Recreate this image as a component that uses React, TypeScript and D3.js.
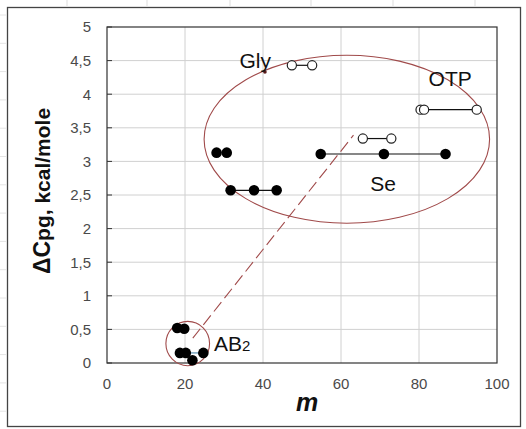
import React from "react";
import * as d3 from "d3";

// Filled markers: glass formers measured at several m values
const filledX = [28.1, 30.7, 31.7, 37.7, 43.5, 54.8, 71.0, 86.8, 18.0, 19.8, 18.7, 20.2, 24.7, 21.9];
const filledY = [3.13, 3.13, 2.57, 2.57, 2.57, 3.11, 3.11, 3.11, 0.52, 0.51, 0.15, 0.15, 0.15, 0.04];

// Open markers
const openX = [47.4, 52.6, 80.4, 81.3, 94.8, 65.6, 72.9];
const openY = [4.43, 4.43, 3.77, 3.77, 3.77, 3.34, 3.34];

// Connected segments [x1, x2, y]
const segX1 = [31.7, 54.8, 47.4, 81.3, 65.6];
const segX2 = [43.5, 86.8, 52.6, 94.8, 72.9];
const segY = [2.57, 3.11, 4.43, 3.77, 3.34];

const xTicks = [0, 20, 40, 60, 80, 100];
const yTicks = [0, 0.5, 1, 1.5, 2, 2.5, 3, 3.5, 4, 4.5, 5];

// Group outlines (center x, center y, radius x, radius y) in data units
const bigGroup = [61.5, 3.33, 36.6, 1.25];
const smallGroup = [20.7, 0.29, 5.6, 0.33];

// Connector between groups
const linkFrom = [22, 0.37];
const linkTo = [63.2, 3.39];

const labels = [
  { text: "Gly", x: 38, y: 4.39 },
  { text: "OTP", x: 88, y: 4.12 },
  { text: "Se", x: 70.8, y: 2.56 },
];

const W = 526;
const H = 429;
const left = 107;
const right = 497;
const top = 27;
const bottom = 363;

export default function App() {
  const x = d3.scaleLinear().domain([0, 100]).range([left, right]);
  const y = d3.scaleLinear().domain([0, 5]).range([bottom, top]);
  const fmt = (v: number) => String(v).replace(".", ",");
  const font = "'Liberation Sans', Arial, sans-serif";
  const red = "#a04a4a";

  const ellipse = (g: number[]) => (
    <ellipse
      cx={x(g[0])}
      cy={y(g[1])}
      rx={x(g[2]) - x(0)}
      ry={y(0) - y(g[3])}
      fill="none"
      stroke={red}
      strokeWidth={1.1}
    />
  );

  const faintTop = [67, 147, 230, 311, 393, 475];
  const faintLeft = d3.range(15, 425, 28.3);

  return (
    <svg
      width={W}
      height={H}
      style={{ position: "absolute", left: 0, top: 0, background: "#fff" }}
      fontFamily={font}
    >
      {faintTop.map((v) => (
        <line key={"ft" + v} x1={v} x2={v} y1={0} y2={6} stroke="#ddd" />
      ))}
      {faintLeft.map((v) => (
        <line key={"fl" + v} x1={0} x2={6} y1={v} y2={v} stroke="#e4e4e4" />
      ))}
      <rect x={7.5} y={7.5} width={513} height={419} fill="#fff" stroke="#444" strokeWidth={1.3} />

      {/* grid */}
      {xTicks.slice(1, -1).map((t) => (
        <line key={"gx" + t} x1={x(t)} x2={x(t)} y1={top} y2={bottom} stroke="#d0d0d0" />
      ))}
      {yTicks.slice(1, -1).map((t) => (
        <line key={"gy" + t} x1={left} x2={right} y1={y(t)} y2={y(t)} stroke="#d0d0d0" />
      ))}
      <rect x={left} y={top} width={right - left} height={bottom - top} fill="none" stroke="#333" strokeWidth={1.2} />

      {/* y ticks */}
      {yTicks.map((t) => (
        <g key={"ty" + t}>
          <line x1={left} x2={left + 5} y1={y(t)} y2={y(t)} stroke="#333" />
          <text x={91} y={y(t)} dy="0.36em" textAnchor="end" fontSize={15} fill="#4a4a4a">
            {fmt(t)}
          </text>
        </g>
      ))}
      {/* x ticks */}
      {xTicks.map((t) => (
        <text key={"tx" + t} x={x(t)} y={389} textAnchor="middle" fontSize={15} fill="#4a4a4a">
          {t}
        </text>
      ))}

      <text x={307} y={411} textAnchor="middle" fontSize={25} fontWeight="bold" fontStyle="italic" fill="#111">
        m
      </text>
      <text
        transform={`translate(50,${(top + bottom) / 2 - 4}) rotate(-90)`}
        textAnchor="middle"
        fontSize={21}
        fontWeight="bold"
        fill="#111"
      >
        <tspan fontSize={23}>ΔC</tspan>
        <tspan>pg, kcal/mole</tspan>
      </text>

      {/* group outlines */}
      {ellipse(bigGroup)}
      {ellipse(smallGroup)}
      <line
        x1={x(linkFrom[0])}
        y1={y(linkFrom[1])}
        x2={x(linkTo[0])}
        y2={y(linkTo[1])}
        stroke={red}
        strokeWidth={1.1}
        strokeDasharray="12,5"
      />

      {/* connecting segments */}
      {segY.map((v, i) => (
        <line key={"s" + i} x1={x(segX1[i])} x2={x(segX2[i])} y1={y(v)} y2={y(v)} stroke="#111" strokeWidth={1.2} />
      ))}
      <line x1={x(20.2)} x2={x(24.7)} y1={y(0.15)} y2={y(0.15)} stroke="#5a8fb0" strokeWidth={1.2} />

      {/* markers */}
      {filledX.map((v, i) => (
        <circle key={"f" + i} cx={x(v)} cy={y(filledY[i])} r={5.3} fill="#000" />
      ))}
      {openX.map((v, i) => (
        <circle key={"o" + i} cx={x(v)} cy={y(openY[i])} r={4.6} fill="#fff" stroke="#222" strokeWidth={1.2} />
      ))}
      <circle cx={x(40.5)} cy={y(4.33)} r={1.8} fill="#5a1a1a" />

      {labels.map((l) => (
        <text key={l.text} x={x(l.x)} y={y(l.y)} textAnchor="middle" fontSize={21} fill="#111">
          {l.text}
        </text>
      ))}
      <text x={214} y={351} fontSize={21} fill="#111">
        AB<tspan fontSize={15}>2</tspan>
      </text>
    </svg>
  );
}
